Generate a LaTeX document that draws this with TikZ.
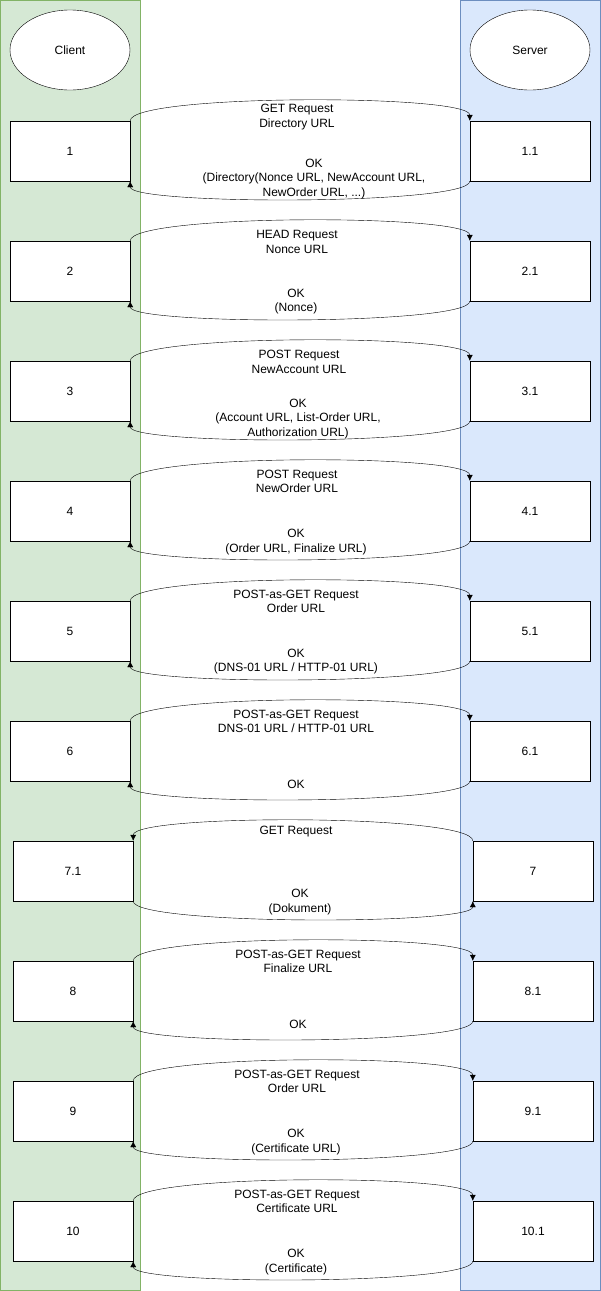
\documentclass[tikz,border=0pt]{standalone}
\usepackage{fontspec}
\setmainfont{Liberation Sans}
\usetikzlibrary{arrows.meta,shapes.geometric}
\definecolor{clientfill}{RGB}{213,232,212}
\definecolor{clientline}{RGB}{130,179,102}
\definecolor{serverfill}{RGB}{218,232,252}
\definecolor{serverline}{RGB}{108,142,191}
\begin{document}
\begin{tikzpicture}[x=1pt, y=-1pt,
    every node/.style={font=\fontsize{12}{14.5}\selectfont},
    box/.style={draw, fill=white, minimum width=120pt, minimum height=60pt, inner sep=0pt},
    actor/.style={draw, ellipse, minimum width=120pt, minimum height=80pt},
    msg/.style={align=center, inner sep=0pt},
    conn/.style={-{Latex[length=6pt,width=6pt]}}]
    \useasboundingbox (0, 0) rectangle (601, 1291) ;
    \draw[clientline, fill=clientfill] (0.5, 0.5) rectangle (140.5, 1290.5) ;
    \draw[serverline, fill=serverfill] (460.5, 0.5) rectangle (600.5, 1290.5) ;
    \node[actor, fill=white] (client) at (70, 50) {Client} ;
    \node[actor, fill=white] (server) at (530, 50) {Server} ;
    \node[box] (c1) at (70, 151) {1} ;
    \node[box] (s1) at (530, 151) {1.1} ;
    \node[box] (c2) at (70, 271) {2} ;
    \node[box] (s2) at (530, 271) {2.1} ;
    \node[box] (c3) at (70, 391) {3} ;
    \node[box] (s3) at (530, 391) {3.1} ;
    \node[box] (c4) at (70, 511) {4} ;
    \node[box] (s4) at (530, 511) {4.1} ;
    \node[box] (c5) at (70, 631) {5} ;
    \node[box] (s5) at (530, 631) {5.1} ;
    \node[box] (c6) at (70, 751) {6} ;
    \node[box] (s6) at (530, 751) {6.1} ;
    \node[box] (c7) at (73, 871) {7.1} ;
    \node[box] (s7) at (533, 871) {7} ;
    \node[box] (c8) at (73, 991) {8} ;
    \node[box] (s8) at (533, 991) {8.1} ;
    \node[box] (c9) at (73, 1111) {9} ;
    \node[box] (s9) at (533, 1111) {9.1} ;
    \node[box] (c10) at (73, 1231) {10} ;
    \node[box] (s10) at (533, 1231) {10.1} ;
    \draw[conn] (c1.north east) .. controls +(0, -27) and +(0, -27) .. (s1.north west) ;
    \draw[conn] (s1.south west) .. controls +(0, 24) and +(0, 24) .. (c1.south east) ;
    \draw[conn] (c2.north east) .. controls +(0, -27) and +(0, -27) .. (s2.north west) ;
    \draw[conn] (s2.south west) .. controls +(0, 24) and +(0, 24) .. (c2.south east) ;
    \draw[conn] (c3.north east) .. controls +(0, -27) and +(0, -27) .. (s3.north west) ;
    \draw[conn] (s3.south west) .. controls +(0, 24) and +(0, 24) .. (c3.south east) ;
    \draw[conn] (c4.north east) .. controls +(0, -27) and +(0, -27) .. (s4.north west) ;
    \draw[conn] (s4.south west) .. controls +(0, 24) and +(0, 24) .. (c4.south east) ;
    \draw[conn] (c5.north east) .. controls +(0, -27) and +(0, -27) .. (s5.north west) ;
    \draw[conn] (s5.south west) .. controls +(0, 24) and +(0, 24) .. (c5.south east) ;
    \draw[conn] (c6.north east) .. controls +(0, -27) and +(0, -27) .. (s6.north west) ;
    \draw[conn] (s6.south west) .. controls +(0, 24) and +(0, 24) .. (c6.south east) ;
    \draw[conn] (s7.north west) .. controls +(0, -27) and +(0, -27) .. (c7.north east) ;
    \draw[conn] (c7.south east) .. controls +(0, 24) and +(0, 24) .. (s7.south west) ;
    \draw[conn] (c8.north east) .. controls +(0, -27) and +(0, -27) .. (s8.north west) ;
    \draw[conn] (s8.south west) .. controls +(0, 24) and +(0, 24) .. (c8.south east) ;
    \draw[conn] (c9.north east) .. controls +(0, -27) and +(0, -27) .. (s9.north west) ;
    \draw[conn] (s9.south west) .. controls +(0, 24) and +(0, 24) .. (c9.south east) ;
    \draw[conn] (c10.north east) .. controls +(0, -27) and +(0, -27) .. (s10.north west) ;
    \draw[conn] (s10.south west) .. controls +(0, 24) and +(0, 24) .. (c10.south east) ;
    \node[msg] (req1) at (297, 117) {GET Request\\Directory URL} ;
    \node[msg] (res1) at (314, 179) {OK\\(Directory(Nonce URL, NewAccount URL,\\NewOrder URL, ...)} ;
    \node[msg] (req2) at (297, 242) {HEAD Request\\Nonce URL} ;
    \node[msg] (res2) at (296, 301.5) {OK\\(Nonce)} ;
    \node[msg] (req3) at (299, 362) {POST Request\\NewAccount URL} ;
    \node[msg] (res3) at (298, 419) {OK\\(Account URL, List-Order URL,\\Authorization URL)} ;
    \node[msg] (req4) at (297, 481.5) {POST Request\\NewOrder URL} ;
    \node[msg] (res4) at (296, 542) {OK\\(Order URL, Finalize URL)} ;
    \node[msg] (req5) at (296, 601.5) {POST-as-GET Request\\Order URL} ;
    \node[msg] (res5) at (296, 661.5) {OK\\(DNS-01 URL / HTTP-01 URL)} ;
    \node[msg] (req6) at (296, 721.5) {POST-as-GET Request\\DNS-01 URL / HTTP-01 URL} ;
    \node[msg] (res6) at (296, 784.5) {OK} ;
    \node[msg] (req7) at (296, 832) {GET Request} ;
    \node[msg] (res7) at (300, 902) {OK\\(Dokument)} ;
    \node[msg] (req8) at (298, 961.5) {POST-as-GET Request\\Finalize URL} ;
    \node[msg] (res8) at (298, 1024.5) {OK} ;
    \node[msg] (req9) at (297, 1081.5) {POST-as-GET Request\\Order URL} ;
    \node[msg] (res9) at (296, 1142) {OK\\(Certificate URL)} ;
    \node[msg] (req10) at (297, 1201.5) {POST-as-GET Request\\Certificate URL} ;
    \node[msg] (res10) at (296, 1262) {OK\\(Certificate)} ;
\end{tikzpicture}
\end{document}
